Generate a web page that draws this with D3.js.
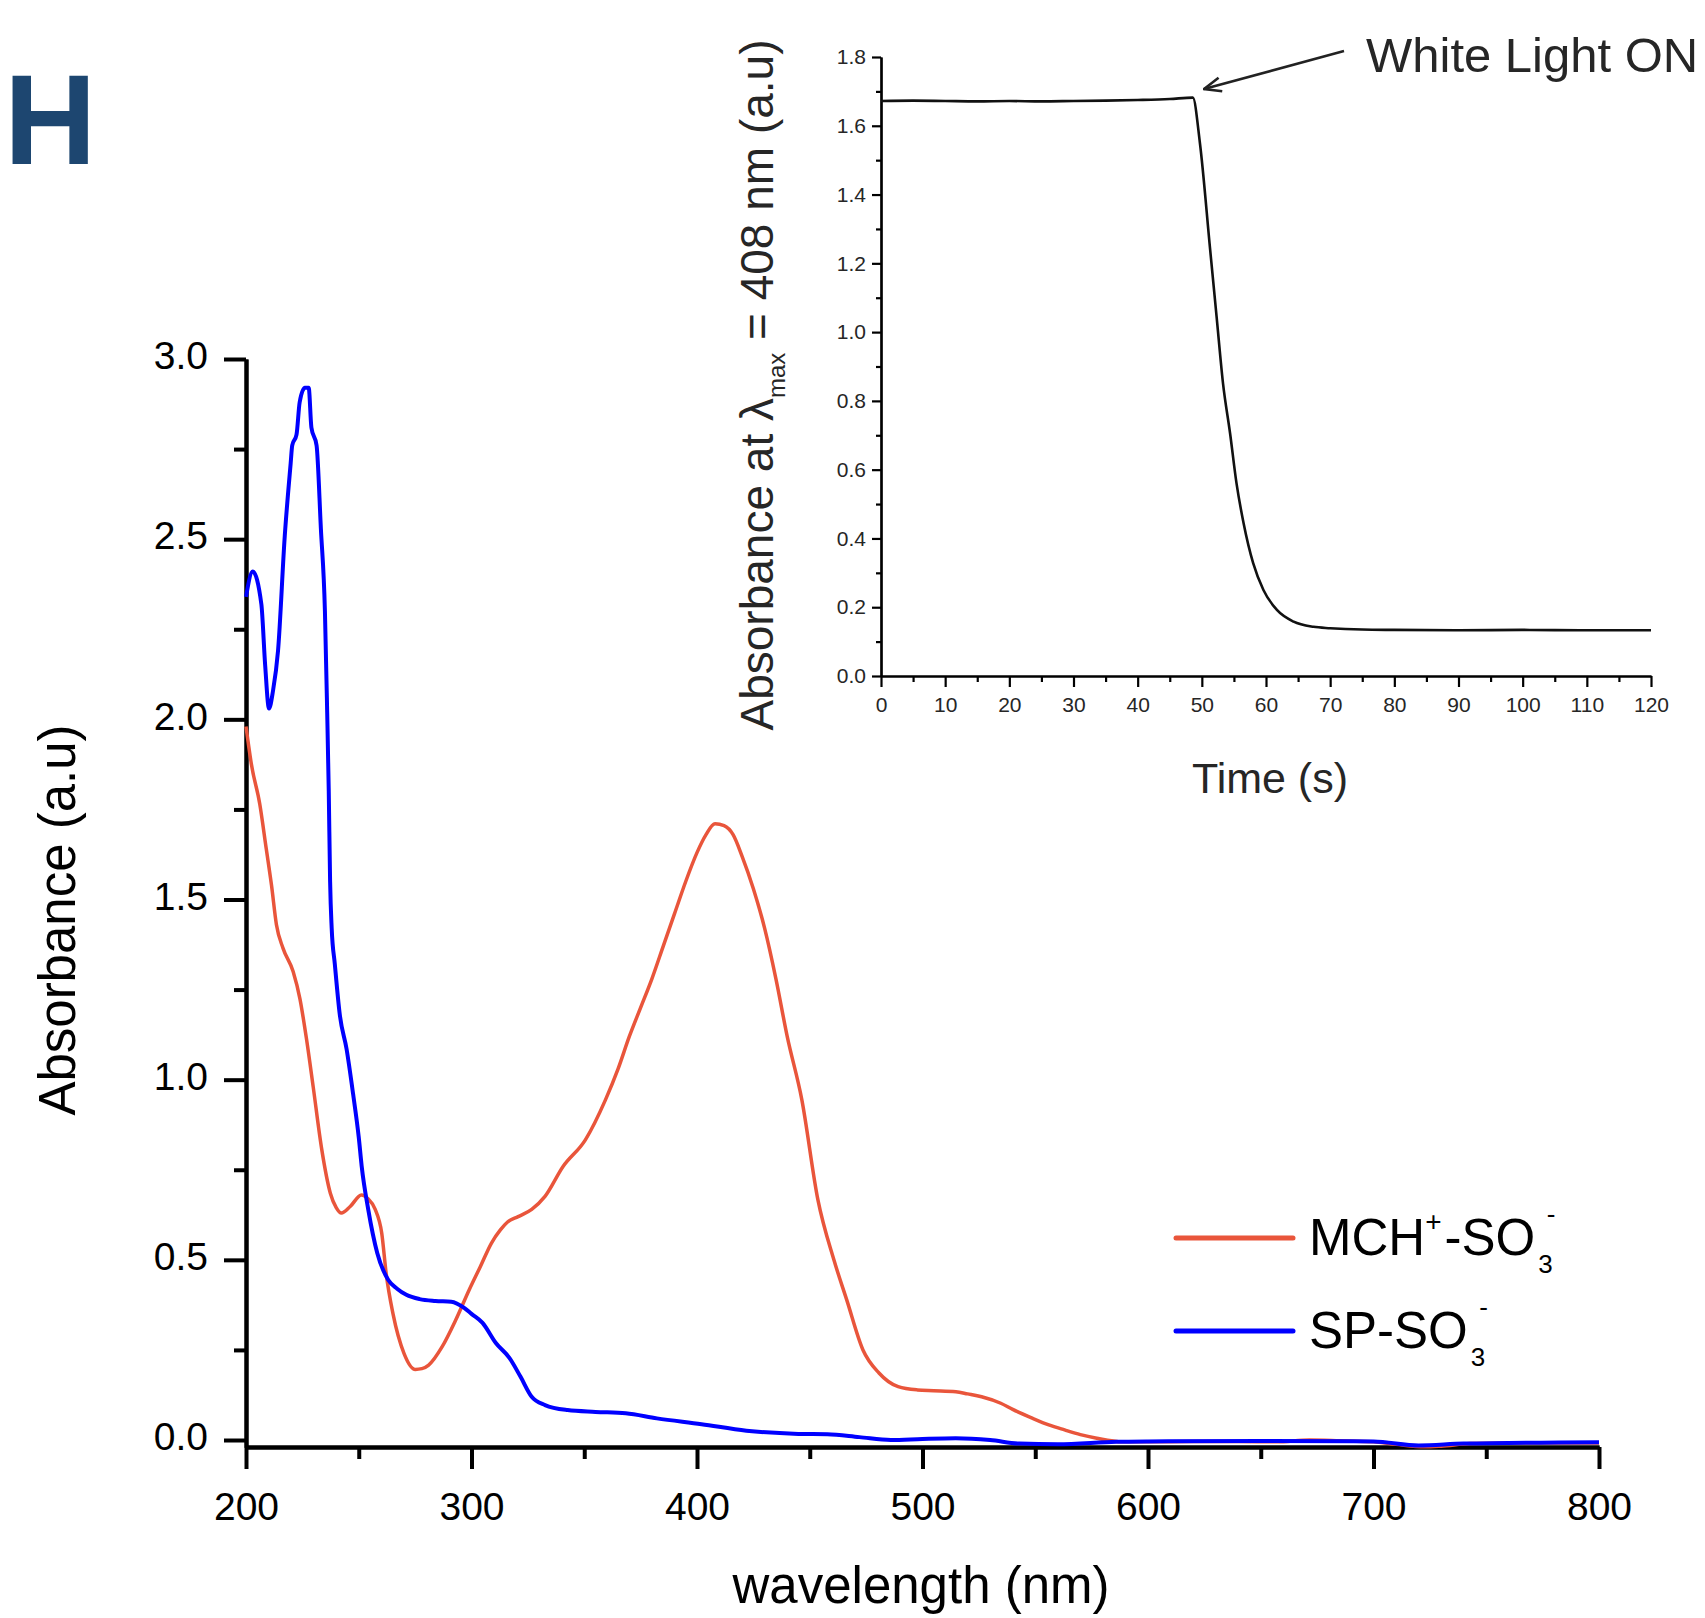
<!DOCTYPE html>
<html>
<head>
<meta charset="utf-8">
<script src="https://cdn.jsdelivr.net/npm/d3@7"></script>
<style>
    body { margin: 0; background: #fff; }
    svg { display: block; font-family: "Liberation Sans", Arial, sans-serif; }
    .axis path, .axis line { stroke: #000; }
    .inset text { fill: #262626; }
</style>
</head>
<body>
<script>
(function(){

//main spectra: wavelength (nm) and absorbance (a.u)
var mchNm  = [200, 202.4, 206.1, 209, 211.3, 213.5, 216.4, 220.9, 223.9, 226.8, 229.8, 233.5, 237.4, 240, 242.3, 246.2, 251.2, 254, 257.3, 260.2, 262.2, 265.2, 270.1, 275.1, 278, 281, 287, 293, 299, 303.9, 308.8, 312.8, 316, 320.7, 326.7, 332.6, 340.6, 350.5, 359.4, 365, 370, 375, 380, 385, 390, 395, 400, 404, 408, 412, 416, 420, 425, 430, 435, 440, 446.5, 453.6, 460.7, 466.4, 473.6, 480.7, 489.2, 497.8, 505, 514.8, 520, 526.2, 534.7, 540, 548.9, 556, 563, 570, 577.3, 588.8, 600, 620, 640, 657, 671.6, 685, 700, 710, 722.7, 730, 742.7, 760, 780, 800];
var mchAbs = [1.98, 1.875, 1.765, 1.64, 1.54, 1.43, 1.365, 1.30, 1.225, 1.114, 0.98, 0.81, 0.685, 0.645, 0.63, 0.648, 0.68, 0.67, 0.64, 0.574, 0.46, 0.35, 0.24, 0.196, 0.198, 0.208, 0.259, 0.333, 0.417, 0.481, 0.546, 0.583, 0.605, 0.62, 0.64, 0.676, 0.759, 0.833, 0.944, 1.03, 1.12, 1.20, 1.28, 1.37, 1.46, 1.55, 1.63, 1.68, 1.71, 1.705, 1.68, 1.62, 1.53, 1.42, 1.28, 1.12, 0.944, 0.667, 0.5, 0.389, 0.25, 0.186, 0.148, 0.139, 0.137, 0.134, 0.128, 0.12, 0.102, 0.085, 0.06, 0.042, 0.028, 0.015, 0.005, -0.005, -0.005, -0.004, -0.004, -0.005, 0.0, -0.002, -0.005, -0.012, -0.019, -0.017, -0.01, -0.008, -0.008, -0.008];

var spNm  = [200, 203, 206.8, 208.5, 210.2, 212, 214.2, 217.2, 219.8, 220.5, 222.4, 223.8, 226.1, 227.8, 229, 231.3, 233.2, 235, 236, 236.7, 237.3, 238, 239.4, 241.6, 244.6, 247.5, 250, 251.3, 254.2, 258.2, 263.1, 267, 271.1, 277, 284, 291, 296.9, 300, 304.9, 310.8, 316.8, 321.7, 326.7, 332.6, 342.6, 355, 368.4, 382.2, 402, 421.9, 445, 457.8, 472, 486, 500, 514.7, 530, 543, 560, 586, 600, 650, 700, 720, 740, 800];
var spAbs = [2.34, 2.41, 2.32, 2.15, 2.03, 2.08, 2.19, 2.51, 2.71, 2.76, 2.79, 2.88, 2.92, 2.92, 2.81, 2.76, 2.53, 2.30, 2.02, 1.80, 1.55, 1.42, 1.32, 1.18, 1.085, 0.96, 0.84, 0.76, 0.64, 0.519, 0.444, 0.42, 0.403, 0.391, 0.386, 0.384, 0.366, 0.35, 0.325, 0.269, 0.228, 0.176, 0.12, 0.097, 0.083, 0.078, 0.074, 0.06, 0.044, 0.026, 0.017, 0.016, 0.008, 0.0, 0.003, 0.005, 0.0, -0.01, -0.012, -0.005, -0.004, -0.003, -0.004, -0.015, -0.01, -0.006];

//inset kinetics: time (s) and absorbance at 408 nm
var timeS   = [0, 5, 10, 15, 20, 25, 30, 35, 40, 45, 48.6, 49.7, 51.3, 52.3, 53.3, 54.4, 55.4, 56.5, 58, 59.6, 61.7, 64.3, 67.4, 70, 75, 80, 90, 100, 110, 120];
var timeAbs = [1.672, 1.673, 1.672, 1.671, 1.672, 1.671, 1.672, 1.673, 1.675, 1.678, 1.682, 1.55, 1.239, 1.045, 0.851, 0.706, 0.561, 0.445, 0.328, 0.25, 0.192, 0.158, 0.143, 0.139, 0.135, 0.134, 0.133, 0.134, 0.133, 0.133];

//tick values
var mainYTicks = [0, 0.5, 1.0, 1.5, 2.0, 2.5, 3.0];
var mainXTicks = [200, 300, 400, 500, 600, 700, 800];
var insetYTicks = [0, 0.2, 0.4, 0.6, 0.8, 1.0, 1.2, 1.4, 1.6, 1.8];
var insetXTicks = d3.range(0, 121, 10);

window.onload = drawChart();

function drawChart(){

    var width = 1705,
        height = 1618;

    var svg = d3.select("body")
        .append("svg")
        .attr("width", width)
        .attr("height", height);

    svg.append("rect")
        .attr("width", width)
        .attr("height", height)
        .attr("fill", "#fff");

    //panel letter
    svg.append("text")
        .attr("x", 4)
        .attr("y", 164)
        .attr("font-size", 128)
        .attr("font-weight", "bold")
        .attr("fill", "#1d4670")
        .text("H");

    drawMain(svg);
    drawInset(svg);
};

function drawMain(svg){

    var x = d3.scaleLinear().domain([200, 800]).range([246, 1599]);
    var y = d3.scaleLinear().domain([-0.0194, 3.0]).range([1447, 359]);

    //minor ticks first so the major axis sits on top
    svg.append("g")
        .attr("class", "axis")
        .attr("transform", "translate(246,0)")
        .call(d3.axisLeft(y).tickValues(d3.range(0.25, 3, 0.5)).tickSize(12).tickSizeOuter(0).tickFormat(""))
        .call(styleAxis, 4);

    svg.append("g")
        .attr("class", "axis")
        .attr("transform", "translate(0,1447)")
        .call(d3.axisBottom(x).tickValues(d3.range(250, 800, 100)).tickSize(12).tickSizeOuter(0).tickFormat(""))
        .call(styleAxis, 4);

    var yAxis = svg.append("g")
        .attr("class", "axis")
        .attr("transform", "translate(246,0)")
        .call(d3.axisLeft(y).tickValues(mainYTicks).tickSize(22).tickPadding(16).tickSizeOuter(0).tickFormat(d3.format(".1f")))
        .call(styleAxis, 4);
    yAxis.selectAll("text").attr("font-size", 39).attr("dy", "0.25em");

    var xAxis = svg.append("g")
        .attr("class", "axis")
        .attr("transform", "translate(0,1447)")
        .call(d3.axisBottom(x).tickValues(mainXTicks).tickSize(22).tickPadding(23).tickSizeOuter(0).tickFormat(d3.format("d")))
        .call(styleAxis, 4);
    xAxis.selectAll("text").attr("font-size", 39);

    //axis titles
    svg.append("text")
        .attr("x", 921)
        .attr("y", 1603)
        .attr("text-anchor", "middle")
        .attr("font-size", 51)
        .text("wavelength (nm)");

    svg.append("text")
        .attr("transform", "translate(75,920) rotate(-90)")
        .attr("text-anchor", "middle")
        .attr("font-size", 51)
        .text("Absorbance (a.u)");

    var line = d3.line()
        .x(function(d){ return x(d[0]); })
        .y(function(d){ return y(d[1]); })
        .curve(d3.curveMonotoneX);

    svg.append("path")
        .datum(d3.zip(mchNm, mchAbs))
        .attr("fill", "none")
        .attr("stroke", "#e9553b")
        .attr("stroke-width", 3.5)
        .attr("d", line);

    svg.append("path")
        .datum(d3.zip(spNm, spAbs))
        .attr("fill", "none")
        .attr("stroke", "#0000ff")
        .attr("stroke-width", 4)
        .attr("d", line);

    //legend
    var legend = svg.append("g");
    var rows = [
        {color: "#e9553b", y: 1238, main: "MCH", sup1: "+", rest: "-SO"},
        {color: "#0000ff", y: 1331, main: "SP-SO", sup1: null, rest: null}
    ];
    rows.forEach(function(r){
        legend.append("line")
            .attr("x1", 1176).attr("x2", 1293)
            .attr("y1", r.y).attr("y2", r.y)
            .attr("stroke", r.color)
            .attr("stroke-width", 5)
            .attr("stroke-linecap", "round");

        var t = legend.append("text")
            .attr("x", 1309)
            .attr("y", r.y + 17)
            .attr("font-size", 51);
        t.append("tspan").text(r.main);
        if (r.sup1){
            t.append("tspan").attr("font-size", 28).attr("dy", -24).text(r.sup1);
            t.append("tspan").attr("dy", 24).attr("dx", 3).text(r.rest);
        };
        //subscript 3 with the charge stacked above it
        t.append("tspan").attr("font-size", 26).attr("dx", 3).attr("dy", 18).text("3");
        t.append("tspan").attr("font-size", 26).attr("dx", -6).attr("dy", -50).text("-");
    });
};

function drawInset(svg){

    var x = d3.scaleLinear().domain([0, 120]).range([881, 1651]);
    var y = d3.scaleLinear().domain([0, 1.8]).range([676, 57]);

    var g = svg.append("g").attr("class", "inset");

    g.append("g")
        .attr("class", "axis")
        .attr("transform", "translate(881,0)")
        .call(d3.axisLeft(y).tickValues(d3.range(0.1, 1.8, 0.2)).tickSize(5).tickSizeOuter(0).tickFormat(""))
        .call(styleAxis, 2.2);

    g.append("g")
        .attr("class", "axis")
        .attr("transform", "translate(0,676)")
        .call(d3.axisBottom(x).tickValues(d3.range(5, 120, 10)).tickSize(6).tickSizeOuter(0).tickFormat(""))
        .call(styleAxis, 2.2);

    var yAxis = g.append("g")
        .attr("class", "axis")
        .attr("transform", "translate(881,0)")
        .call(d3.axisLeft(y).tickValues(insetYTicks).tickSize(9).tickPadding(6).tickSizeOuter(0).tickFormat(d3.format(".1f")))
        .call(styleAxis, 2.2);
    yAxis.selectAll("text").attr("font-size", 21);

    var xAxis = g.append("g")
        .attr("class", "axis")
        .attr("transform", "translate(0,676)")
        .call(d3.axisBottom(x).tickValues(insetXTicks).tickSize(11).tickPadding(10).tickSizeOuter(0).tickFormat(d3.format("d")))
        .call(styleAxis, 2.2);
    xAxis.selectAll("text").attr("font-size", 21);

    g.append("text")
        .attr("x", 1270)
        .attr("y", 793)
        .attr("text-anchor", "middle")
        .attr("font-size", 43)
        .text("Time (s)");

    var yTitle = g.append("text")
        .attr("transform", "translate(773,385) rotate(-90)")
        .attr("text-anchor", "middle")
        .attr("font-size", 46);
    yTitle.append("tspan").text("Absorbance at \u03bb");
    yTitle.append("tspan").attr("font-size", 24).attr("dy", 12).text("max");
    yTitle.append("tspan").attr("dy", -12).text(" = 408 nm (a.u)");

    var line = d3.line()
        .x(function(d){ return x(d[0]); })
        .y(function(d){ return y(d[1]); })
        .curve(d3.curveMonotoneX);

    g.append("path")
        .datum(d3.zip(timeS, timeAbs))
        .attr("fill", "none")
        .attr("stroke", "#111")
        .attr("stroke-width", 2.6)
        .attr("d", line);

    //annotation arrow
    svg.append("defs").append("marker")
        .attr("id", "arrowHead")
        .attr("viewBox", "0 0 20 20")
        .attr("refX", 19).attr("refY", 10)
        .attr("markerWidth", 20).attr("markerHeight", 20)
        .attr("markerUnits", "userSpaceOnUse")
        .attr("orient", "auto")
        .append("path")
        .attr("d", "M2,3 L19,10 L2,17")
        .attr("fill", "none")
        .attr("stroke", "#222")
        .attr("stroke-width", 2.6);

    g.append("line")
        .attr("x1", 1344).attr("y1", 51)
        .attr("x2", 1204).attr("y2", 89)
        .attr("stroke", "#222")
        .attr("stroke-width", 2.6)
        .attr("marker-end", "url(#arrowHead)");

    g.append("text")
        .attr("x", 1366)
        .attr("y", 72)
        .attr("font-size", 49)
        .text("White Light ON");
};

//set line widths and text colour on an axis group
function styleAxis(sel, w){
    sel.select(".domain").attr("stroke-width", w);
    sel.selectAll(".tick line").attr("stroke-width", w);
    sel.selectAll("text").attr("fill", "#000").attr("font-family", null);
};

})();
</script>
</body>
</html>
